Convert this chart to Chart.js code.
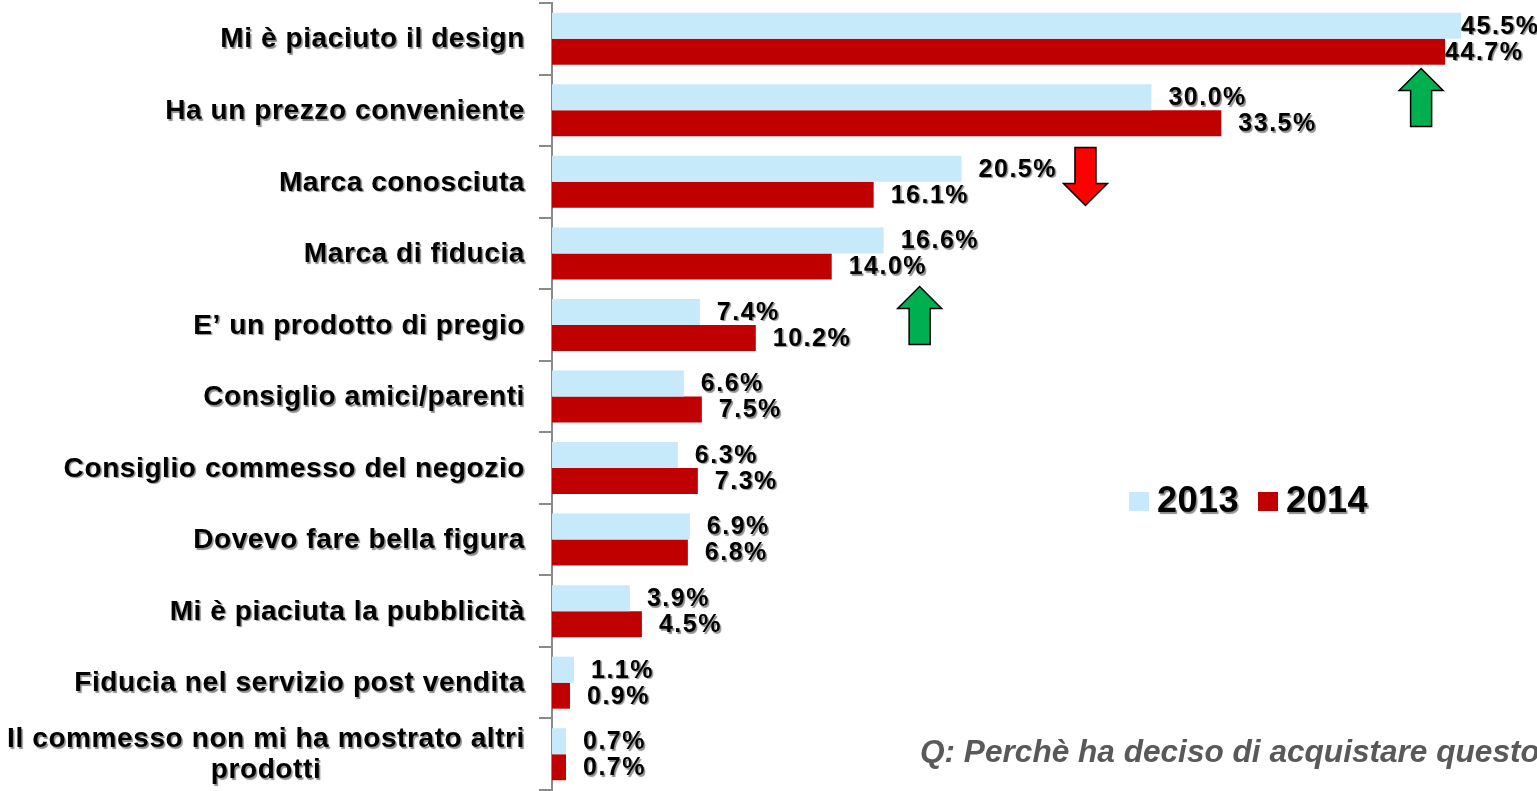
<!DOCTYPE html>
<html>
<head>
<meta charset="utf-8">
<script src="https://cdn.jsdelivr.net/npm/chart.js@4.4.1/dist/chart.umd.min.js"></script>
<style>
  html, body { margin: 0; padding: 0; background: #ffffff; overflow: hidden; }
  #wrap { width: 1537px; height: 791px; position: relative; }
</style>
</head>
<body>
<div id="wrap"><canvas id="c" width="1537" height="791"></canvas></div>
<script>
// ---- Data ----
const categories = [
  'Mi è piaciuto il design',
  'Ha un prezzo conveniente',
  'Marca conosciuta',
  'Marca di fiducia',
  'E\u2019 un prodotto di pregio',
  'Consiglio amici/parenti',
  'Consiglio commesso del negozio',
  'Dovevo fare bella figura',
  'Mi è piaciuta la pubblicità',
  'Fiducia nel servizio post vendita',
  ['Il commesso non mi ha mostrato altri', 'prodotti']
];
const values2013 = [45.5, 30.0, 20.5, 16.6, 7.4, 6.6, 6.3, 6.9, 3.9, 1.1, 0.7];
const values2014 = [44.7, 33.5, 16.1, 14.0, 10.2, 7.5, 7.3, 6.8, 4.5, 0.9, 0.7];
const seriesNames = ['2013', '2014'];
const footnote = 'Q: Perchè ha deciso di acquistare questo prodotto?';
// trend arrows: category position (index units) and value position (%)
const arrowCats = [0.82, 1.925, 3.868];
const arrowValues = [43.5, 26.7, 18.4];
const arrowDirs = ['up', 'down', 'up'];

const COL2013 = '#C6EAFA';
const COL2014 = '#C00000';
const FONT = '"Liberation Sans", Arial, sans-serif';

function withShadow(ctx, fn) {
  ctx.save();
  ctx.shadowColor = 'rgba(0,0,0,0.45)';
  ctx.shadowOffsetX = 1.5;
  ctx.shadowOffsetY = 1.5;
  ctx.shadowBlur = 1;
  fn();
  ctx.restore();
}

const decorPlugin = {
  id: 'decor',
  afterDraw(chart) {
    const ctx = chart.ctx;
    const y = chart.scales.y;
    const x = chart.scales.x;
    const area = chart.chartArea;

    // category labels
    ctx.save();
    ctx.font = 'bold 28px ' + FONT;
    ctx.letterSpacing = '0.6px';
    ctx.fillStyle = '#000';
    ctx.textBaseline = 'middle';
    ctx.textAlign = 'center';
    const rightEdge = 525;
    const lineH = 31;
    categories.forEach((lab, i) => {
      const lines = Array.isArray(lab) ? lab : [lab];
      const maxW = Math.max(...lines.map(l => ctx.measureText(l).width));
      const cx = rightEdge - maxW / 2;
      const cy = y.getPixelForTick(i) + 1;
      const y0 = cy - (lines.length - 1) * lineH / 2;
      withShadow(ctx, () => {
        lines.forEach((l, k) => ctx.fillText(l, cx, y0 + k * lineH));
      });
    });
    ctx.restore();

    // data labels
    ctx.save();
    ctx.font = 'bold 25px ' + FONT;
    ctx.letterSpacing = '1.5px';
    ctx.fillStyle = '#000';
    ctx.textBaseline = 'middle';
    ctx.textAlign = 'left';
    chart.data.datasets.forEach((ds, di) => {
      const meta = chart.getDatasetMeta(di);
      meta.data.forEach((el, i) => {
        const txt = ds.data[i].toFixed(1) + '%';
        const w = ctx.measureText(txt).width;
        const tx = (el.x + 17 + w > area.right) ? el.x : el.x + 17;
        withShadow(ctx, () => ctx.fillText(txt, tx, el.y + 1));
      });
    });
    ctx.restore();

    // arrows
    arrowCats.forEach((c, i) => {
      const cx = x.getPixelForValue(arrowValues[i]);
      const cy = y.getPixelForValue(c);
      const H = 58, W = 44, head = 22, shaft = 21;
      const s = arrowDirs[i] === 'up' ? 1 : -1;
      const top = cy - s * H / 2, bot = cy + s * H / 2, hb = top + s * head;
      ctx.save();
      ctx.beginPath();
      ctx.moveTo(cx, top);
      ctx.lineTo(cx + W / 2, hb);
      ctx.lineTo(cx + shaft / 2, hb);
      ctx.lineTo(cx + shaft / 2, bot);
      ctx.lineTo(cx - shaft / 2, bot);
      ctx.lineTo(cx - shaft / 2, hb);
      ctx.lineTo(cx - W / 2, hb);
      ctx.closePath();
      ctx.fillStyle = arrowDirs[i] === 'up' ? '#00B050' : '#FF0000';
      ctx.fill();
      ctx.lineWidth = 1.5;
      ctx.strokeStyle = '#000';
      ctx.lineJoin = 'miter';
      ctx.stroke();
      ctx.restore();
    });

    // legend
    ctx.save();
    ctx.font = 'bold 36px ' + FONT;
    ctx.letterSpacing = '0.5px';
    ctx.textBaseline = 'alphabetic';
    ctx.textAlign = 'left';
    const lx = [1129, 1258];
    const cols = [COL2013, COL2014];
    seriesNames.forEach((n, i) => {
      ctx.fillStyle = cols[i];
      ctx.fillRect(lx[i], 492, 20, 19);
      ctx.fillStyle = '#000';
      withShadow(ctx, () => ctx.fillText(n, lx[i] + 28, 512));
    });
    ctx.restore();

    // footnote
    ctx.save();
    ctx.font = 'italic bold 31.6px ' + FONT;
    ctx.fillStyle = '#595959';
    ctx.textBaseline = 'alphabetic';
    ctx.textAlign = 'left';
    ctx.fillText(footnote, 920, 762);
    ctx.restore();
  }
};

new Chart(document.getElementById('c'), {
  type: 'bar',
  data: {
    labels: categories,
    datasets: [
      { label: seriesNames[0], data: values2013, backgroundColor: COL2013, borderWidth: 0 },
      { label: seriesNames[1], data: values2014, backgroundColor: COL2014, borderWidth: 0 }
    ]
  },
  options: {
    indexAxis: 'y',
    responsive: false,
    animation: false,
    devicePixelRatio: 1,
    layout: { padding: { top: 3, bottom: 1, left: 0, right: 0 } },
    datasets: { bar: { categoryPercentage: 0.727, barPercentage: 1.0 } },
    plugins: { legend: { display: false }, tooltip: { enabled: false } },
    scales: {
      x: { display: false, min: 0, max: 49.3 },
      y: {
        position: 'left',
        grid: { drawOnChartArea: false, drawTicks: true, tickLength: 13, color: '#8a8a8a', lineWidth: 2, offset: true },
        border: { display: true, color: '#8a8a8a', width: 2 },
        ticks: { display: false },
        afterFit(scale) { scale.width = 552; }
      }
    }
  },
  plugins: [decorPlugin]
});
</script>
</body>
</html>
